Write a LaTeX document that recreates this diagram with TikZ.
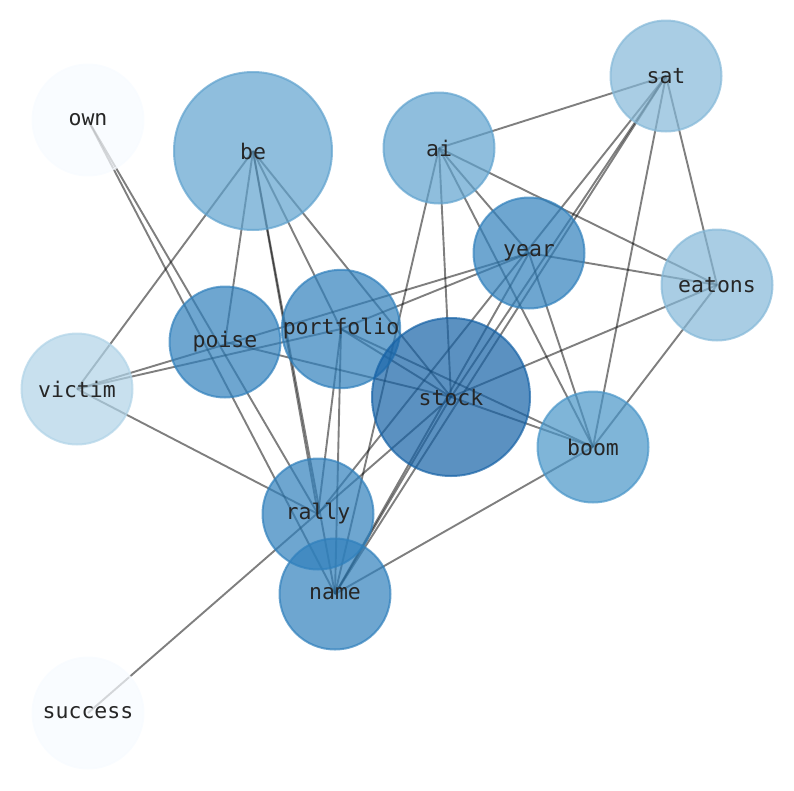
\documentclass[tikz,border=0pt]{standalone}
\usepackage{fontspec}
\usepackage{tikz}
\usetikzlibrary{backgrounds}
\newfontfamily\wordfont{DejaVu Sans Mono}
\definecolor{bluea}{RGB}{247,251,255}
\definecolor{blueb}{RGB}{176,211,231}
\definecolor{bluec}{RGB}{132,184,216}
\definecolor{blued}{RGB}{95,162,206}
\definecolor{bluee}{RGB}{72,149,200}
\definecolor{bluef}{RGB}{48,128,188}
\definecolor{blueg}{RGB}{22,98,166}
\tikzset{%
    word/.style={circle,inner sep=0pt,line width=2pt,fill opacity=0.7,draw opacity=0.7,
        text opacity=1,text=black!85,font=\wordfont\fontsize{21.5}{24}\selectfont},
    big/.style={word,minimum size=158pt},
    small/.style={word,minimum size=111pt},
    link/.style={black,opacity=0.5,line width=1.9pt}
}

\begin{document}
\begin{tikzpicture}[x=1pt,y=-1pt]
        \useasboundingbox (0,0) rectangle (794,790);
        \node[small,draw=bluea,fill=bluea] (own) at (88,120){own};
        \node[big,draw=blued,fill=blued] (be) at (253,151){be};
        \node[small,draw=blued,fill=blued] (ai) at (439,148){ai};
        \node[small,draw=bluec,fill=bluec] (sat) at (666,76){sat};
        \node[small,draw=bluef,fill=bluef] (year) at (529,253){year};
        \node[small,draw=bluec,fill=bluec] (eatons) at (717,285){eatons};
        \node[small,draw=bluef,fill=bluef] (portfolio) at (341,329){portfolio};
        \node[small,draw=bluef,fill=bluef] (poise) at (225,342){poise};
        \node[small,draw=blueb,fill=blueb] (victim) at (77,389){victim};
        \node[big,draw=blueg,fill=blueg] (stock) at (451,397){stock};
        \node[small,draw=bluee,fill=bluee] (boom) at (593,447){boom};
        \node[small,draw=bluef,fill=bluef] (rally) at (318,514){rally};
        \node[small,draw=bluef,fill=bluef] (name) at (335,594){name};
        \node[small,draw=bluea,fill=bluea] (success) at (88,713){success};

        \begin{pgfonlayer}{background}
        \draw[link] (own.center) -- (rally.center);
        \draw[link] (own.center) -- (name.center);
        \draw[link] (be.center) -- (victim.center);
        \draw[link] (be.center) -- (poise.center);
        \draw[link] (be.center) -- (rally.center);
        \draw[link] (be.center) -- (name.center);
        \draw[link] (be.center) -- (portfolio.center);
        \draw[link] (be.center) -- (stock.center);
        \draw[link] (ai.center) -- (sat.center);
        \draw[link] (ai.center) -- (eatons.center);
        \draw[link] (ai.center) -- (year.center);
        \draw[link] (ai.center) -- (boom.center);
        \draw[link] (ai.center) -- (stock.center);
        \draw[link] (ai.center) -- (name.center);
        \draw[link] (sat.center) -- (eatons.center);
        \draw[link] (sat.center) -- (boom.center);
        \draw[link] (sat.center) -- (stock.center);
        \draw[link] (sat.center) -- (name.center);
        \draw[link] (sat.center) -- (rally.center);
        \draw[link] (year.center) -- (eatons.center);
        \draw[link] (year.center) -- (boom.center);
        \draw[link] (year.center) -- (victim.center);
        \draw[link] (year.center) -- (portfolio.center);
        \draw[link] (year.center) -- (name.center);
        \draw[link] (eatons.center) -- (stock.center);
        \draw[link] (eatons.center) -- (boom.center);
        \draw[link] (portfolio.center) -- (victim.center);
        \draw[link] (portfolio.center) -- (stock.center);
        \draw[link] (portfolio.center) -- (boom.center);
        \draw[link] (portfolio.center) -- (rally.center);
        \draw[link] (portfolio.center) -- (name.center);
        \draw[link] (poise.center) -- (stock.center);
        \draw[link] (stock.center) -- (boom.center);
        \draw[link] (stock.center) -- (name.center);
        \draw[link] (stock.center) -- (success.center);
        \draw[link] (boom.center) -- (name.center);
        \draw[link] (victim.center) -- (rally.center);
        \end{pgfonlayer}
    \end{tikzpicture}
\end{document}
